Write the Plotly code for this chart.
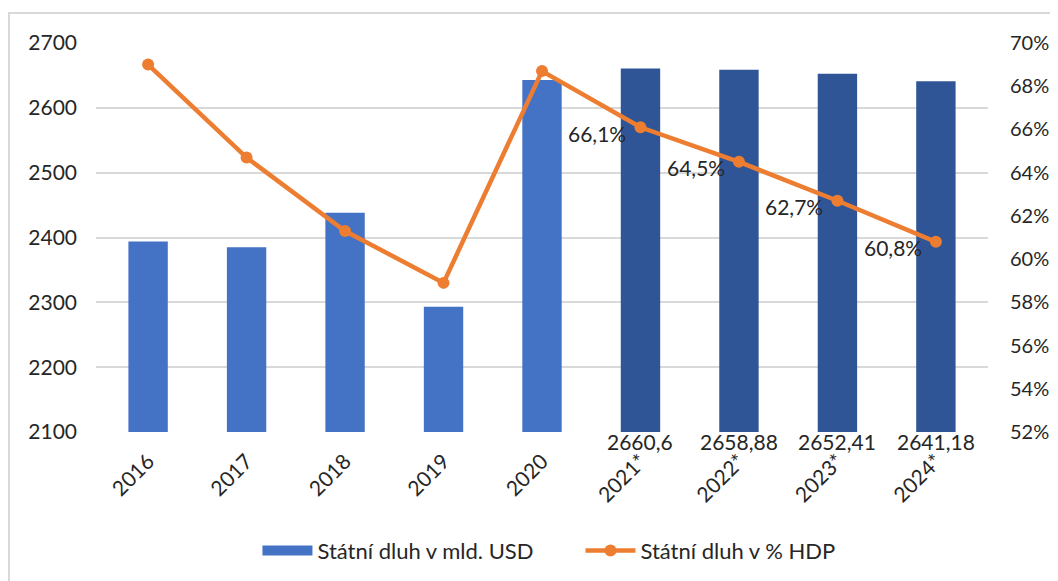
import plotly.graph_objects as go

years = ["2016", "2017", "2018", "2019", "2020", "2021*", "2022*", "2023*", "2024*"]
debt_usd = [2394, 2385, 2438, 2293, 2643, 2660.6, 2658.88, 2652.41, 2641.18]
debt_pct = [69.0, 64.7, 61.3, 58.9, 68.7, 66.1, 64.5, 62.7, 60.8]
bar_labels = ["", "", "", "", "", "2660,6", "2658,88", "2652,41", "2641,18"]
pct_labels = ["", "", "", "", "", "66,1%", "64,5%", "62,7%", "60,8%"]
bar_colors = ["#4472C4"] * 5 + ["#2F5597"] * 4

left_range = [2100, 2700]
right_range = [52, 70]

# page has an 8px body margin, so the figure is 8px smaller than the window
W, H = 1050, 573
ml, mr, mt, mb = 88, 70, 35, 149
pw, ph = W - ml - mr, H - mt - mb

font = dict(family="Lato, Calibri, sans-serif", size=21, color="#262626")
right_font = dict(family="Lato, Calibri, sans-serif", size=20, color="#262626")
legend_font = dict(family="Lato, Calibri, sans-serif", size=22, color="#262626")

fig = go.Figure()
fig.add_trace(go.Bar(
    x=years, y=debt_usd, name="Státní dluh v mld. USD",
    marker=dict(color=bar_colors, line=dict(width=0)),
    showlegend=False,
))
# legend entry for the bars (wide swatch, as in the reference)
fig.add_trace(go.Scatter(
    x=[None], y=[None], name="Státní dluh v mld. USD", mode="lines",
    line=dict(color="#4472C4", width=12), hoverinfo="skip",
))
fig.add_trace(go.Scatter(
    x=years, y=debt_pct, name="Státní dluh v % HDP", yaxis="y2",
    mode="lines+markers",
    line=dict(color="#ED7D31", width=4.5),
    marker=dict(color="#ED7D31", size=12),
))

for x, lab in zip(years, bar_labels):
    if lab:
        fig.add_annotation(x=x, y=left_range[0], xref="x", yref="y", text=lab,
                           showarrow=False, yanchor="top", yshift=5, font=font)
for x, v, lab in zip(years, debt_pct, pct_labels):
    if lab:
        fig.add_annotation(x=x, y=v, xref="x", yref="y2", text=lab,
                           showarrow=False, xanchor="right", yanchor="middle",
                           xshift=-12, yshift=-6, font=font)

# outer chart border (light grey)
fig.add_shape(type="rect", xref="paper", yref="paper",
              x0=(1 - ml) / pw, x1=(W + 20 - ml) / pw,
              y0=-(H + 20 - mt - ph) / ph, y1=(mt + ph - 5) / ph,
              line=dict(color="#D9D9D9", width=2), fillcolor="rgba(0,0,0,0)", layer="below")

fig.update_layout(
    width=W, height=H,
    margin=dict(l=ml, r=mr, t=mt, b=mb, autoexpand=False),
    paper_bgcolor="white", plot_bgcolor="white",
    font=font,
    bargap=0.6,
    showlegend=True,
    legend=dict(orientation="h", x=0.181, xanchor="left", y=-0.305, yanchor="middle",
                font=legend_font, itemwidth=50, entrywidth=258, traceorder="normal"),
    xaxis=dict(type="category", tickangle=-45, showgrid=False, showline=False,
               ticks="", ticklabelstandoff=12, tickfont=font),
    yaxis=dict(range=left_range, dtick=100, showgrid=True, gridcolor="#D9D9D9",
               gridwidth=1.5, zeroline=False, showline=False, ticks="",
               ticklabelstandoff=18, tickfont=font),
    yaxis2=dict(range=right_range, dtick=2, overlaying="y", side="right",
                showgrid=False, zeroline=False, showline=False, ticks="",
                ticksuffix="%", ticklabelstandoff=21, tickfont=right_font),
)

fig.write_html("out.html")
